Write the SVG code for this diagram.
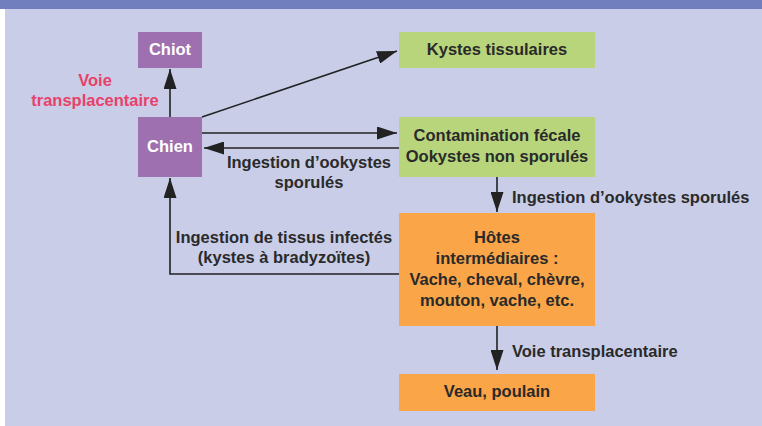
<svg xmlns="http://www.w3.org/2000/svg" width="762" height="426" viewBox="0 0 762 426">
  <style>
    text { font-family: "Liberation Sans", Arial, sans-serif; font-weight: bold; font-size: 16.5px; }
    .dark { fill: #2a2a2a; }
    .white { fill: #ffffff; }
    .red { fill: #e8416a; }
    .mid { text-anchor: middle; }
    .purple { fill: #9e70b0; }
    .green { fill: #b8d57c; }
    .orange { fill: #f9a548; }
    .link { stroke: #222222; stroke-width: 1.6; fill: none; }
  </style>
  <defs>
    <marker id="arrow" markerUnits="userSpaceOnUse" markerWidth="20" markerHeight="13" refX="20" refY="6.5" orient="auto">
      <path d="M0,0 L20,6.5 L0,13 Z" fill="#222222"/>
    </marker>
  </defs>

  <!-- background panel and header band -->
  <rect x="0" y="0" width="762" height="426" fill="#ffffff"/>
  <rect x="5" y="8" width="757" height="418" fill="#c9cde8"/>
  <rect x="0" y="0" width="762" height="9" fill="#717fbe"/>

  <!-- connectors -->
  <g id="connectors">
    <line class="link" x1="170" y1="117" x2="170" y2="69" marker-end="url(#arrow)"/>
    <line class="link" x1="202" y1="117" x2="397" y2="51" marker-end="url(#arrow)"/>
    <line class="link" x1="202" y1="133" x2="397" y2="133" marker-end="url(#arrow)"/>
    <line class="link" x1="399" y1="148" x2="204" y2="148" marker-end="url(#arrow)"/>
    <line class="link" x1="497" y1="177" x2="497" y2="212" marker-end="url(#arrow)"/>
    <line class="link" x1="497" y1="326" x2="497" y2="370" marker-end="url(#arrow)"/>
    <polyline class="link" points="399,274 170,274 170,178" marker-end="url(#arrow)"/>

    <text class="red mid" x="95" y="86">Voie</text>
    <text class="red mid" x="95" y="106">transplacentaire</text>
    <text class="dark mid" x="309" y="168">Ingestion d’ookystes</text>
    <text class="dark mid" x="309" y="188">sporulés</text>
    <text class="dark" x="512" y="203">Ingestion d’ookystes sporulés</text>
    <text class="dark mid" x="284" y="243">Ingestion de tissus infectés</text>
    <text class="dark mid" x="284" y="263">(kystes à bradyzoïtes)</text>
    <text class="dark" x="512" y="357">Voie transplacentaire</text>
  </g>

  <!-- nodes -->
  <g id="chiot">
    <rect class="purple" x="138" y="32" width="64" height="36"/>
    <text class="white mid" x="170" y="55">Chiot</text>
  </g>
  <g id="chien">
    <rect class="purple" x="138" y="117" width="64" height="60"/>
    <text class="white mid" x="170" y="152">Chien</text>
  </g>
  <g id="kystes">
    <rect class="green" x="399" y="32" width="196" height="36"/>
    <text class="dark mid" x="497" y="55">Kystes tissulaires</text>
  </g>
  <g id="contamination">
    <rect class="green" x="399" y="117" width="196" height="60"/>
    <text class="dark mid" x="497" y="141">Contamination fécale</text>
    <text class="dark mid" x="497" y="162">Ookystes non sporulés</text>
  </g>
  <g id="hotes">
    <rect class="orange" x="399" y="213" width="196" height="113"/>
    <text class="dark mid" x="497" y="243">Hôtes</text>
    <text class="dark mid" x="497" y="264">intermédiaires :</text>
    <text class="dark mid" x="497" y="285">Vache, cheval, chèvre,</text>
    <text class="dark mid" x="497" y="306">mouton, vache, etc.</text>
  </g>
  <g id="veau">
    <rect class="orange" x="399" y="374" width="196" height="37"/>
    <text class="dark mid" x="497" y="397">Veau, poulain</text>
  </g>
</svg>
